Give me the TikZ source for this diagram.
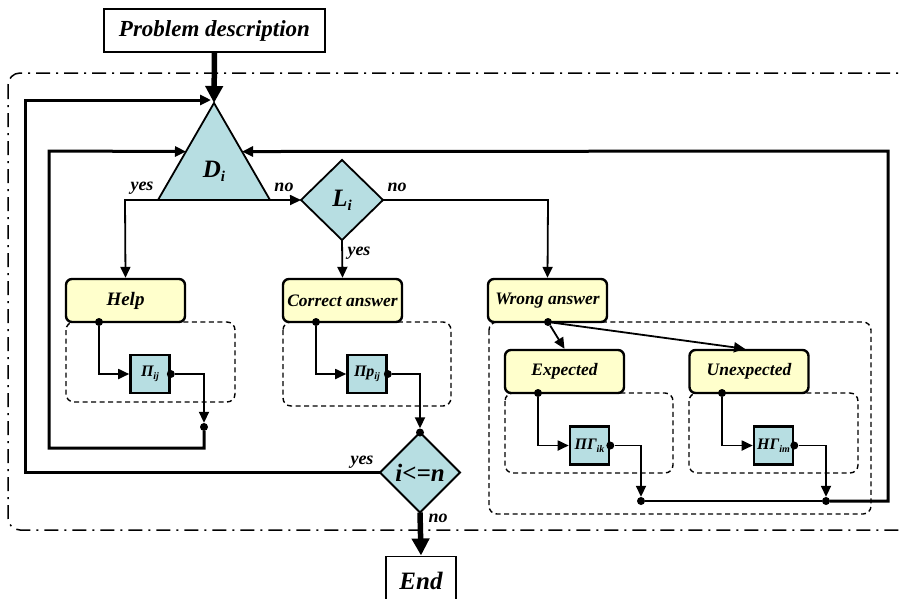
\documentclass[tikz,border=0pt]{standalone}
\usepackage{fontspec}
\setmainfont{Liberation Serif}
\usetikzlibrary{arrows.meta,shapes.geometric,calc}
\definecolor{tri}{HTML}{B7DEE2}
\definecolor{yel}{HTML}{FFFFCC}
\newcommand{\fs}[1]{\fontsize{#1}{#1}\selectfont}
\newcommand{\sbs}[1]{\raisebox{-0.35ex}{\fs{10}#1}}
\begin{document}
\begin{tikzpicture}[x=1pt,y=-1pt,
  font=\bfseries\itshape,
  arr/.style={-{Triangle[length=11pt,width=10pt]}},
  bigarr/.style={line width=5.5pt,-{Triangle[length=17pt,width=17pt]}},
  thinl/.style={line width=1.8pt},
  loopl/.style={line width=3pt},
  ybox/.style={draw, line width=2.4pt, rounded corners=6pt, fill=yel, minimum width=119pt, minimum height=43pt, inner sep=0pt, font=\bfseries\itshape\fs{17.5}},
  pbox/.style={draw, line width=2.6pt, fill=tri, minimum width=39pt, minimum height=38pt, inner sep=0pt, font=\bfseries\itshape\fs{16}},
  dashbox/.style={draw, dash pattern=on 5pt off 3.5pt, line width=1.4pt, rounded corners=8pt},
  dot/.style={circle, fill, inner sep=0pt, minimum size=8pt},
  lbl/.style={font=\bfseries\itshape\fs{18}, inner sep=0pt}
]
\useasboundingbox (0,0) rectangle (901,598);
% outer dash-dot frame
\draw[line width=1.5pt, dash pattern=on 14pt off 6pt on 2pt off 6pt, rounded corners=12pt] (8,73) rectangle (930,530);
% dashed containers
\draw[dashbox] (66,322) rectangle (235,402);
\draw[dashbox] (283,322) rectangle (451,406);
\draw[dashbox] (489,322) rectangle (871,514);
\draw[dashbox] (505,393) rectangle (673,473);
\draw[dashbox] (689,393) rectangle (858,473);

% nodes
\node[draw, line width=1.5pt, fill=white, minimum width=221pt, minimum height=43pt, inner sep=0pt, font=\bfseries\itshape\fs{23}] (pd) at (214.5,30.5) {Problem description};
\node[regular polygon, regular polygon sides=3, draw, fill=tri, line width=1.8pt, minimum size=129.4pt, inner sep=0pt, outer sep=0pt] (D) at (214,167.7) {};
\node[font=\bfseries\itshape\fs{25}] (Dl) at (214,171) {D\sbs{\fs{15}i}};
\node[diamond, draw, fill=tri, line width=1.8pt, minimum width=82pt, minimum height=80pt, inner sep=0pt, outer sep=0pt, font=\bfseries\itshape\fs{25}] (L) at (342,200) {L\sbs{\fs{15}i}};
\node[diamond, draw, fill=tri, line width=1.8pt, minimum width=80pt, minimum height=80pt, inner sep=0pt, outer sep=0pt, font=\bfseries\itshape\fs{25}] (Q) at (420,472.5) {i<=n};
\node[draw, line width=1.5pt, fill=white, minimum width=70pt, minimum height=50pt, inner sep=0pt, anchor=north, font=\bfseries\itshape\fs{25}] (end) at (421,555.5) {\raisebox{-4pt}{End}};

\node[ybox, font=\bfseries\itshape\fs{19}] (help) at (125.5,300.5) {\raisebox{-2pt}{Help}};
\node[ybox] (corr) at (342.5,300.5) {Correct answer};
\node[ybox] (wrong) at (547.5,300.5) {Wrong answer};
\node[ybox] (exp) at (564.5,371.5) {Expected};
\node[ybox] (unexp) at (749,371.5) {Unexpected};

\node[pbox] (p1) at (150,374) {П\sbs{ij}};
\node[pbox] (p2) at (367,374) {Пр\sbs{ij}};
\node[pbox] (p3) at (589.5,445.5) {ПГ\sbs{ik}};
\node[pbox] (p4) at (773.5,445.5) {НГ\sbs{im}};

% dots
\node[dot] (h1) at (99,322) {};
\node[dot] (c1) at (316,322) {};
\node[dot] (w1) at (548,322) {};
\node[dot] (e1) at (538,393) {};
\node[dot] (u1) at (722,393) {};
\node[dot] (p1o) at (p1.east) {};
\node[dot] (p2o) at (p2.east) {};
\node[dot] (p3o) at (p3.east) {};
\node[dot] (p4o) at (p4.east) {};
\node[dot] (j1) at (204,427) {};
\node[dot] (j2) at (641,501) {};
\node[dot] (j3) at (826,501) {};
\node[dot] (qt) at (Q.north) {};

\coordinate (Dleft) at ($(D.corner 1)!0.5!(D.corner 2)$);
\coordinate (Dright) at ($(D.corner 1)!0.5!(D.corner 3)$);

% connectors
\draw[bigarr] (pd.south) -- (D.corner 1);
\draw[bigarr] (Q.south) -- (end.north);
\draw[loopl, arr] (Q.west) -- (25,472.5) -- (25,100) -- ($(D.corner 1)+(-3,-3)$);
\draw[loopl, arr] (j1) -- (204,448) -- (49,448) -- (49,151) -- (Dleft);
\draw[loopl, arr] (j3) -- (888,501) -- (888,151) -- (Dright);
\draw[line width=2pt] (j2) -- (j3);

\draw[thinl, arr] (D.corner 2) -- (125,200) -- (help.north);
\draw[thinl, arr] (D.corner 3) -- (L.west);
\draw[thinl, arr] (L.east) -- (548,200) -- (wrong.north);
\draw[thinl, arr] (L.south) -- (corr.north);

\draw[thinl, arr] (h1) |- (p1.west);
\draw[thinl, arr] (p1o) -| (j1);
\draw[thinl, arr] (c1) |- (p2.west);
\draw[thinl, arr] (p2o) -| (qt);
\draw[thinl, arr] (w1) -- (exp.north);
\draw[thinl, arr] (w1) -- ($(unexp.north)+(-4,0)$);
\draw[thinl, arr] (e1) |- (p3.west);
\draw[thinl, arr] (p3o) -| (j2);
\draw[thinl, arr] (u1) |- (p4.west);
\draw[thinl, arr] (p4o) -| (j3);

% labels
\node[lbl] (ly1) at (142,188) {yes};
\node[lbl] (ln1) at (284,187) {no};
\node[lbl] (ln2) at (397,187) {no};
\node[lbl] (ly2) at (359,253) {yes};
\node[lbl] (ly3) at (362,462) {yes};
\node[lbl] (ln3) at (438,518) {no};
\end{tikzpicture}
\end{document}
